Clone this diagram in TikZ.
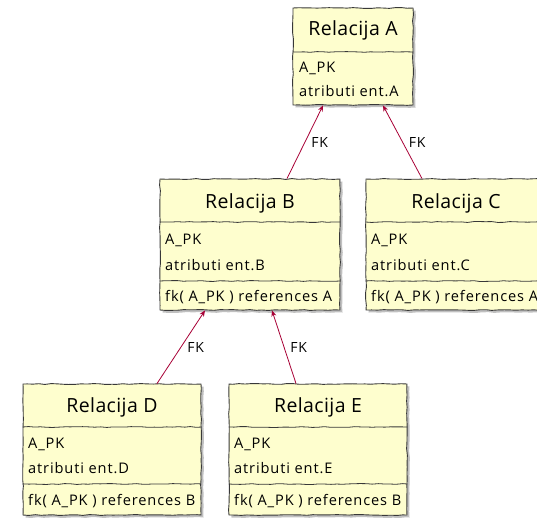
\documentclass[tikz,border=0pt]{standalone}
\usepackage{fontspec}
\setmainfont{Open Sans}[LetterSpace=2]
\newfontfamily\fieldfont{Open Sans}[LetterSpace=6]
\usetikzlibrary{arrows.meta,decorations.pathmorphing,shadows}
\definecolor{boxfill}{HTML}{FEFECE}
\definecolor{boxline}{HTML}{383838}
\definecolor{fkred}{HTML}{A80036}
\pgfmathsetseed{7}
\tikzset{
  sketchy/.style={decorate, decoration={random steps, segment length=6pt, amplitude=0.45pt}},
  entity/.style={rectangle, draw=boxline, fill=boxfill, line width=0.9pt, inner sep=0pt,
    sketchy, drop shadow={shadow xshift=2.5pt, shadow yshift=-2.5pt, opacity=0.35, fill=black!70}},
  sepline/.style={draw=boxline, line width=0.8pt, sketchy},
  title/.style={font=\fontsize{19.5}{23}\selectfont, text=black, inner sep=0pt},
  field/.style={font=\fieldfont\fontsize{14.6}{17}\selectfont, text=black, anchor=west, inner sep=0pt},
  fk/.style={draw=fkred, line width=0.8pt, -{Stealth[length=6pt,width=5pt]}},
  fklabel/.style={font=\fieldfont\fontsize{14}{17}\selectfont, text=black, right=6pt, inner sep=0pt},
}
\begin{document}
\begin{tikzpicture}[x=1pt, y=-1pt]
\useasboundingbox[fill=white] (0,0) rectangle (537,517);

% Relacija A
\node[entity, minimum width=120pt, minimum height=97pt] (A) at (353,56.5) {};
\node[title] (At) at (353,30) {Relacija A};
\draw[sepline] (A.west |- 0,52) -- (A.east |- 0,52);
\node[field] (A1) at (299,68) {A\_PK};
\node[field] (A2) at (299,91) {atributi ent.A};

% Relacija B
\node[entity, minimum width=180pt, minimum height=131pt] (B) at (250,244.5) {};
\node[title] (Bt) at (250,203) {Relacija B};
\draw[sepline] (B.west |- 0,222) -- (B.east |- 0,222);
\draw[sepline] (B.west |- 0,281) -- (B.east |- 0,281);
\node[field] (B1) at (165,240) {A\_PK};
\node[field] (B2) at (165,265) {atributi ent.B};
\node[field] (B3) at (165,297) {fk( A\_PK ) references A};

% Relacija C
\node[entity, minimum width=180pt, minimum height=131pt] (C) at (456,244.5) {};
\node[title] (Ct) at (456,203) {Relacija C};
\draw[sepline] (C.west |- 0,222) -- (C.east |- 0,222);
\draw[sepline] (C.west |- 0,281) -- (C.east |- 0,281);
\node[field] (C1) at (371,240) {A\_PK};
\node[field] (C2) at (371,265) {atributi ent.C};
\node[field] (C3) at (371,297) {fk( A\_PK ) references A};

% Relacija D
\node[entity, minimum width=178pt, minimum height=131pt] (D) at (112,449.5) {};
\node[title] (Dt) at (112,407) {Relacija D};
\draw[sepline] (D.west |- 0,427) -- (D.east |- 0,427);
\draw[sepline] (D.west |- 0,484) -- (D.east |- 0,484);
\node[field] (D1) at (28,444) {A\_PK};
\node[field] (D2) at (28,468) {atributi ent.D};
\node[field] (D3) at (28,501) {fk( A\_PK ) references B};

% Relacija E
\node[entity, minimum width=178pt, minimum height=131pt] (E) at (318,449.5) {};
\node[title] (Et) at (318,407) {Relacija E};
\draw[sepline] (E.west |- 0,427) -- (E.east |- 0,427);
\draw[sepline] (E.west |- 0,484) -- (E.east |- 0,484);
\node[field] (E1) at (234,444) {A\_PK};
\node[field] (E2) at (234,468) {atributi ent.E};
\node[field] (E3) at (234,501) {fk( A\_PK ) references B};

% foreign key references
\draw[fk] ([xshift=37pt]B.north) -- node[fklabel] {FK} ([xshift=-30pt]A.south);
\draw[fk] ([xshift=-34pt]C.north) -- node[fklabel] {FK} ([xshift=30pt]A.south);
\draw[fk] ([xshift=45pt]D.north) -- node[fklabel] {FK} ([xshift=-45pt]B.south);
\draw[fk] ([xshift=-22pt]E.north) -- node[fklabel] {FK} ([xshift=22pt]B.south);
\end{tikzpicture}
\end{document}
